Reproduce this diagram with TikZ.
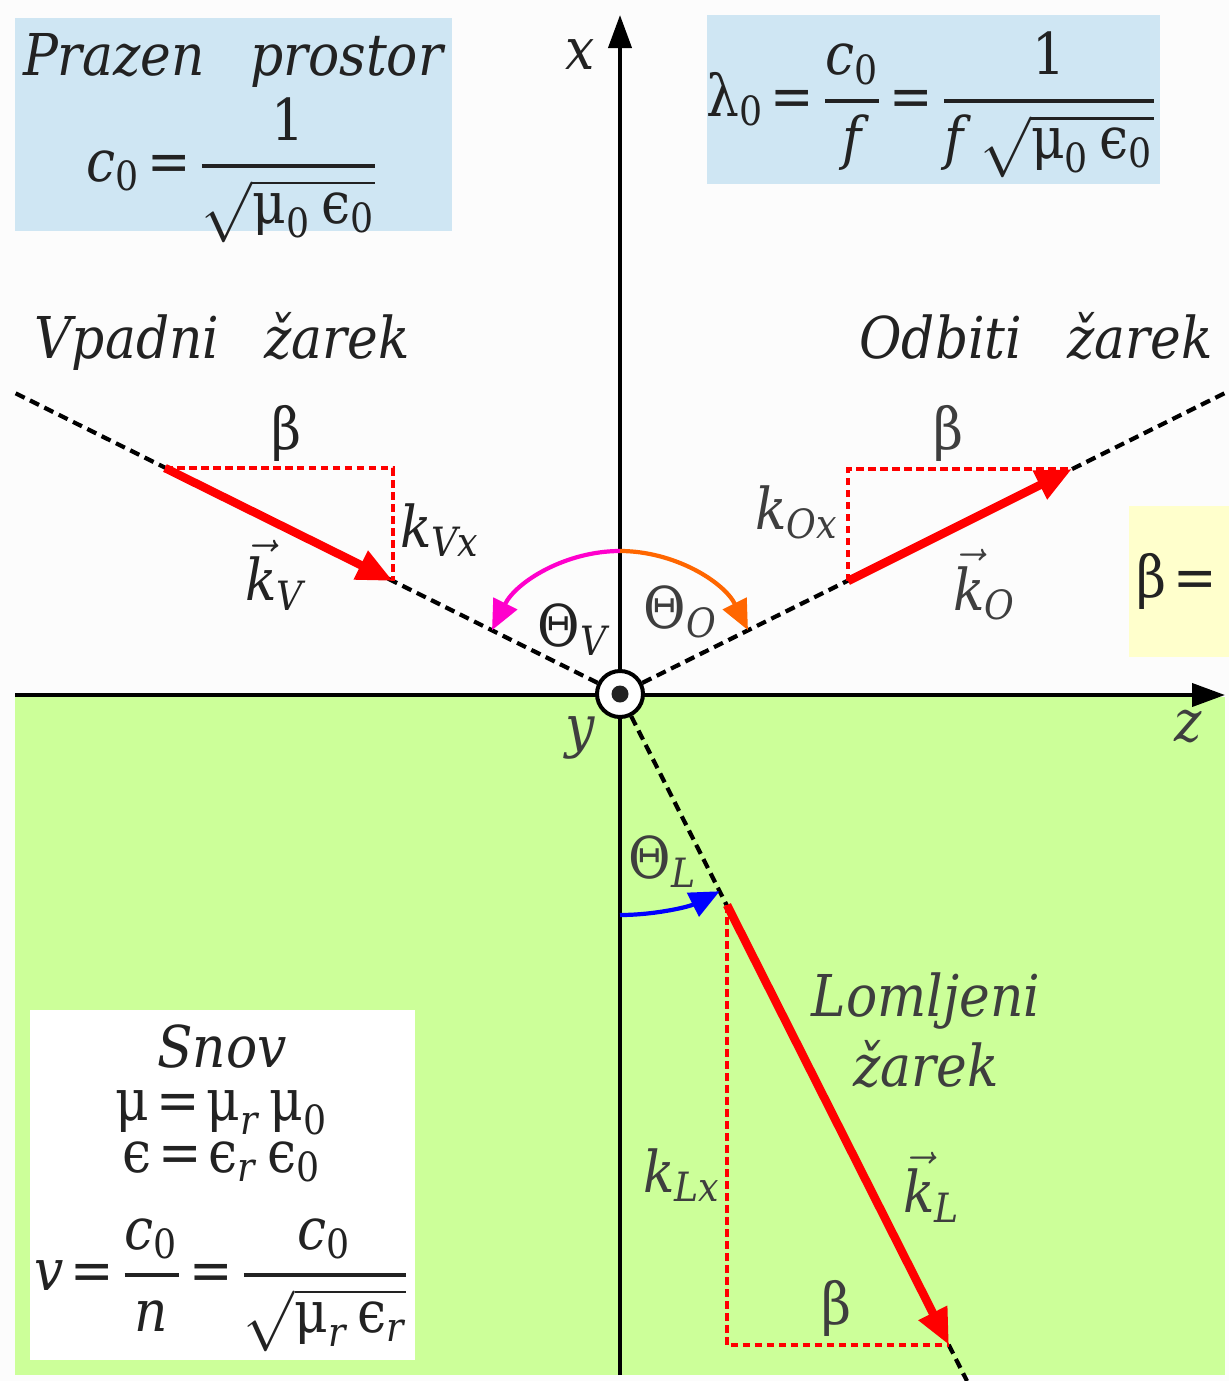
\documentclass[tikz,border=0pt]{standalone}
\usepackage{amsmath,fontspec}
\setmainfont{DejaVu Serif Condensed}
\usetikzlibrary{arrows.meta,positioning}
\definecolor{paper}{RGB}{252,252,252}
\definecolor{vacuum}{RGB}{207,230,243}
\definecolor{medium}{RGB}{204,255,153}
\definecolor{hint}{RGB}{255,255,204}
\definecolor{ink}{RGB}{34,34,34}
\definecolor{softink}{RGB}{62,62,62}
\definecolor{magentaarc}{RGB}{255,0,204}
\definecolor{orangearc}{RGB}{255,102,0}
\newcommand{\ui}[1]{\text{\itshape #1}}
\newcommand{\uu}[1]{\text{\upshape #1}}
\newcommand{\fr}[2]{\genfrac{}{}{1.1pt}{0}{#1}{#2}}
\newcommand{\eq}{\mkern2mu\uu{=}\mkern2mu}

\begin{document}
\begin{tikzpicture}[x=0.1mm,y=-0.1mm,
  lbl/.style={text=ink,inner sep=0pt,font=\fontsize{16.4}{20}\selectfont},
  soft/.style={lbl,text=softink},
  axisline/.style={line width=0.4mm,-{Triangle[length=3.3mm,width=2.3mm]}},
  rayline/.style={line width=0.42mm,dash pattern=on 1mm off 0.6mm},
  kcomp/.style={red,line width=0.42mm,dash pattern=on 0.75mm off 0.45mm},
  kvec/.style={red,line width=0.85mm,-{Triangle[length=3.6mm,width=3mm]}},
  sweep/.style={line width=0.42mm,-{Triangle[length=3mm,width=2.6mm]}}]
\useasboundingbox (0,0) rectangle (1229,1381);
\fill[paper] (0,0) rectangle (1229,1381);
\fill[medium] (15,697) rectangle (1225,1375);
\fill[vacuum] (15,18) rectangle (452,231);
\fill[vacuum] (707,15) rectangle (1160,184);
\fill[hint] (1129,506) rectangle (1229,657);
\fill[white] (30,1010) rectangle (415,1360);

\coordinate (zl) at (15,695);
\coordinate (zr) at (1225,695);
\coordinate (xb) at (620,1375);
\coordinate (xt) at (620,15);
\draw[axisline] (zl) -- (zr);
\draw[axisline] (xb) -- (xt);

\coordinate (inc) at (15,393);
\coordinate (refl) at (1225,393);
\coordinate (refr) at (967,1381);
\node[circle,draw,line width=0.4mm,fill=white,minimum size=4.6mm,inner sep=0pt] (O) at (620,694) {};
\fill[ink] (O) circle (0.85mm);
\draw[rayline] (O) -- (inc);
\draw[rayline] (O) -- (refl);
\draw[rayline] (O) -- (refr);

\coordinate (kVs) at (165,468);
\coordinate (kVe) at (393,581);
\coordinate (kOs) at (848,581);
\coordinate (kOe) at (1072,469);
\coordinate (kLs) at (727,905);
\coordinate (kLe) at (949,1345);
\draw[kcomp] (kVs) -- (kVs -| kVe) -- (kVe);
\draw[kcomp] (kOs) -- (kOs |- kOe) -- (kOe);
\draw[kcomp] (kLs) -- (kLs |- kLe) -- (kLe);
\draw[kvec] (kVs) -- (kVe);
\draw[kvec] (kOs) -- (kOe);
\draw[kvec] (kLs) -- (kLe);

\coordinate (aVO) at (620,551);
\coordinate (aL) at (620,915);
\draw[sweep,magentaarc] (aVO) arc[start angle=90,end angle=153.5,radius=14.3mm];
\draw[sweep,orangearc] (aVO) arc[start angle=90,end angle=26.5,radius=14.3mm];
\draw[sweep,blue] (aL) arc[start angle=-90,end angle=-63.2,radius=22.1mm];

\node[lbl,anchor=base] (vac) at (233,75) {\itshape Prazen\hspace{0.5em} prostor};
\node[lbl] (c0) at (233,170) {$\ui{c}_{\uu{0}}\eq\fr{\uu{1}}{\sqrt{\uu{μ}_{\uu{0}}\,\uu{ϵ}_{\uu{0}}}}$};
\node[lbl] (lam) at (932,105) {$\uu{λ}_{\uu{0}}\eq\fr{\ui{c}_{\uu{0}}}{\ui{f}}\eq\fr{\uu{1}}{\ui{f}\;\sqrt{\uu{μ}_{\uu{0}}\,\uu{ϵ}_{\uu{0}}}}$};
\node[lbl,anchor=base] (inlab) at (222,358) {\itshape Vpadni\hspace{0.5em} žarek};
\node[lbl,anchor=base] (outlab) at (1036,358) {\itshape Odbiti\hspace{0.5em} žarek};
\node[soft,align=center] (lomlab) at (926,1030) {\itshape Lomljeni\\\itshape žarek};
\node[lbl] (bet) at (1180,581) {$\uu{β}\eq$};

\node[lbl] (bV) at (286,433) {$\uu{β}$};
\foreach \n/\p in {bO/{948,433},bL/{836,1308}}
  \node[soft] (\n) at (\p) {$\uu{β}$};
\node[lbl] (kVx) at (440,530) {$\ui{k}_{\ui{Vx}}$};
\node[lbl] (kV) at (275,575) {$\vec{\ui{k}}_{\ui{V}}$};
\node[soft] (kOx) at (797,512) {$\ui{k}_{\ui{Ox}}$};
\node[soft] (kO) at (985,585) {$\vec{\ui{k}}_{\ui{O}}$};
\node[soft] (kLx) at (682,1175) {$\ui{k}_{\ui{Lx}}$};
\node[soft] (kL) at (932,1187) {$\vec{\ui{k}}_{\ui{L}}$};
\node[lbl] (thV) at (573,630) {$\uu{Θ}_{\ui{V}}$};
\node[soft] (thO) at (681,612) {$\uu{Θ}_{\ui{O}}$};
\node[soft] (thL) at (663,862) {$\uu{Θ}_{\ui{L}}$};
\node[lbl] (xlab) at (580,55) {\itshape x};
\node[soft] (ylab) at (580,738) {\itshape y};
\node[soft] (zlab) at (1188,727) {\itshape z};

\node[lbl,anchor=base] (snov) at (222,1067) {\itshape Snov};
\node[lbl,anchor=base] (mu) at (222,1120) {$\uu{μ}\eq\uu{μ}_{\ui{r}}\,\uu{μ}_{\uu{0}}$};
\node[lbl,anchor=base] (eps) at (222,1172) {$\uu{ϵ}\eq\uu{ϵ}_{\ui{r}}\,\uu{ϵ}_{\uu{0}}$};
\node[lbl] (vel) at (222,1285) {$\ui{v}\eq\fr{\ui{c}_{\uu{0}}}{\ui{n}}\eq\fr{\ui{c}_{\uu{0}}}{\sqrt{\uu{μ}_{\ui{r}}\,\uu{ϵ}_{\ui{r}}}}$};
\end{tikzpicture}
\end{document}
